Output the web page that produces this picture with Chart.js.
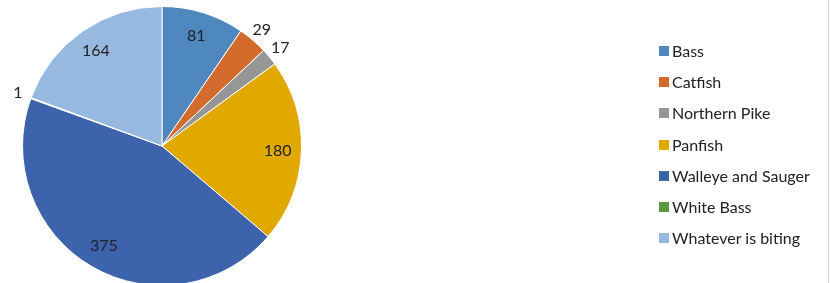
<!DOCTYPE html>
<html>
<head>
<meta charset="utf-8">
<script src="https://cdn.jsdelivr.net/npm/chart.js@4/dist/chart.umd.min.js"></script>
<style>
  html, body { margin: 0; padding: 0; background: #fff; overflow: hidden; }
  #wrap { position: relative; width: 831px; height: 283px; overflow: hidden; }
  #fishChart { position: absolute; left: 0; top: 0; }
  #legend { position: absolute; left: 659px; top: 41px; font-family: Lato, "Open Sans", sans-serif; font-size: 16px; color: #222; }
  #legend div { height: 31.2px; display: flex; align-items: flex-start; white-space: nowrap; }
  #legend span.box { display: inline-block; width: 10px; height: 10px; margin: 5px 3px 0 0; }
  #edge { position: absolute; left: 828px; top: 0; width: 1px; height: 283px; background: #d4d4d4; }
</style>
</head>
<body>
<div id="wrap">
  <canvas id="fishChart" width="831" height="292"></canvas>
  <div id="legend"></div>
  <div id="edge"></div>
</div>
<script>
// Fish species preference
const species = ['Bass', 'Catfish', 'Northern Pike', 'Panfish', 'Walleye and Sauger', 'White Bass', 'Whatever is biting'];
const counts = [81, 29, 17, 180, 375, 1, 164];
const sliceColors = ['#4E88BE', '#D26B2B', '#969696', '#E1A900', '#3D63AC', '#5E983E', '#97B9DF'];

// small slices get their label outside the pie
const outsideBelow = 30;

const sliceLabels = {
    id: 'sliceLabels',
    afterDatasetsDraw(chart) {
        const ctx = chart.ctx;
        const meta = chart.getDatasetMeta(0);
        ctx.save();
        ctx.font = '16px Lato, "Open Sans", sans-serif';
        ctx.fillStyle = '#222';
        ctx.textAlign = 'center';
        ctx.textBaseline = 'middle';
        meta.data.forEach((arc, i) => {
            const mid = (arc.startAngle + arc.endAngle) / 2;
            const f = counts[i] < outsideBelow ? 1.1 : 0.83;
            const x = arc.x + Math.cos(mid) * arc.outerRadius * f;
            const y = arc.y + Math.sin(mid) * arc.outerRadius * f;
            ctx.fillText(String(counts[i]), x, y);
        });
        ctx.restore();
    }
};

new Chart(document.getElementById('fishChart'), {
    type: 'pie',
    data: {
        labels: species,
        datasets: [{
            data: counts,
            backgroundColor: sliceColors,
            borderColor: '#ffffff',
            borderWidth: 1
        }]
    },
    options: {
        responsive: false,
        animation: false,
        layout: { padding: { left: 22, top: 6, right: 529, bottom: 6 } },
        plugins: {
            legend: { display: false },
            tooltip: { enabled: false }
        }
    },
    plugins: [sliceLabels]
});

// legend
const legend = document.getElementById('legend');
species.forEach((name, i) => {
    const row = document.createElement('div');
    row.innerHTML = '<span class="box" style="background:' + sliceColors[i] + '"></span>' + name;
    legend.appendChild(row);
});
</script>
</body>
</html>
